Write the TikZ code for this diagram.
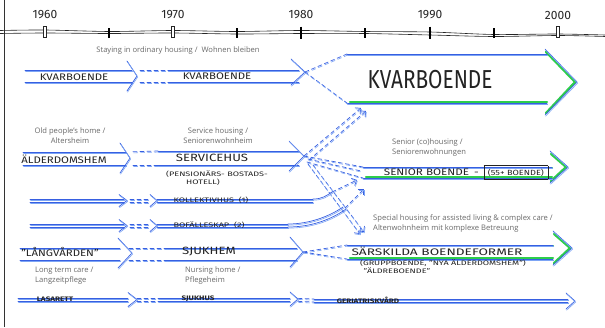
\documentclass[tikz,border=0pt]{standalone}
\usepackage{fontspec}
\setmainfont{Open Sans}
\newfontfamily\hand{Fira Sans}
\usetikzlibrary{arrows.meta}
\definecolor{bl1}{RGB}{55,95,225}
\definecolor{bl2}{RGB}{125,165,245}
\definecolor{gr}{RGB}{45,205,75}
\definecolor{ink}{RGB}{35,35,35}
\definecolor{lab}{RGB}{105,105,105}
% open band arrow: name, x0, x1, ytop, ybot, headx, tipx, tipy, half-height
\newcommand\oarrow[9]{%
  \coordinate (#1-a) at (#2,#4);
  \coordinate (#1-b) at (#2,#5);
  \coordinate (#1-c) at (#3,#4);
  \coordinate (#1-d) at (#3,#5);
  \coordinate (#1-t) at (#7,#8);
  \draw[ln] (#1-a) -- (#1-c);
  \draw[ln] (#1-b) -- (#1-d);
  \draw[ln] (#6,#8-#9) -- (#1-t) -- (#6,#8+#9);
}
\newcommand\garrow[9]{%
  \coordinate (#1-a) at (#2,#4);
  \coordinate (#1-b) at (#2,#5);
  \coordinate (#1-c) at (#3,#4);
  \coordinate (#1-d) at (#3,#5);
  \coordinate (#1-t) at (#7,#8);
  \draw[grn] (#2+3,#4+1.2) -- (#3,#4+1.2);
  \draw[grn] (#2+3,#5-1.2) -- (#3,#5-1.2);
  \draw[grn] (#6+1,#8-#9+3) -- (#7-2,#8) -- (#6+1,#8+#9-2);
  \draw[ln] (#1-a) -- (#1-c);
  \draw[ln] (#1-b) -- (#1-d);
  \draw[ln] (#6,#8-#9) -- (#1-t) -- (#6,#8+#9);
}
\begin{document}
\begin{tikzpicture}[x=1pt,y=-1pt,
  ln/.style={draw=bl1, line width=0.7pt, line cap=round,
    postaction={draw=bl2, line width=0.6pt, transform canvas={xshift=0.6pt,yshift=-1.1pt}}},
  dln/.style={ln, dash pattern=on 4pt off 3pt},
  barb/.style={-{Straight Barb[length=4pt,width=8pt]}},
  grn/.style={draw=gr, line width=2.2pt, line cap=round},
  hw/.style={font=\hand\fontsize{9.5}{10}\selectfont, text=ink, inner sep=0pt, xscale=1.2},
  hwl/.style={font=\hand\fontsize{10.5}{11}\selectfont, text=ink, inner sep=0pt, xscale=1.25},
  hws/.style={font=\hand\fontsize{6.5}{7.5}\selectfont, text=ink, inner sep=0pt, xscale=1.4},
  hwb/.style={font=\hand\bfseries\fontsize{6.5}{7.5}\selectfont, text=ink, inner sep=0pt, xscale=1.25},
  lbl/.style={font=\fontsize{7.6}{10}\selectfont, text=lab, inner sep=0pt, align=left},
  tl/.style={draw=black!85, line width=0.6pt},
  yr/.style={font=\hand\fontsize{12}{13}\selectfont, text=black!85, inner sep=0pt},
]
\useasboundingbox (0,0) rectangle (605,327);
\fill[white] (0,0) rectangle (605,327);
% frame
\draw[black!80, line width=0.8pt] (4,0) -- (4,327);
% timeline
\draw[tl] plot[smooth] coordinates {(0,30.5) (45,30) (110,31.5) (173,30.5) (237,31.5) (301,30.5) (365,31.5) (430,32) (494,34.5) (558,34) (605,35)};
\draw[tl] plot[smooth] coordinates {(0,33.5) (45,33) (110,33.5) (173,33) (237,34) (301,33.5) (365,33.5) (430,35) (494,36.5) (558,35.5) (605,36.5)};
\foreach \x/\y in {45/1960,173/1970,558/2000}{
  \draw[tl, fill=white] (\x-1.5,26.5) rectangle (\x+1.5,37.5);
}
\foreach \x/\y in {301/1980,430/1990}{
  \draw[black, line width=2.2pt] (\x,26.5) -- (\x,38.5);
}
\foreach \x/\y in {45/1960,173/1970,301/1980,430/1990,558/2000}{
  \node[yr] (y\y) at (\x,15) {\y};
}
\foreach \x in {109,237,365,494}{
  \draw[black, line width=2pt] (\x,28) -- (\x,37.5);
}
% ---- row: ordinary housing
\node[lbl] (lA) at (178,51) {Staying in ordinary housing /\ \ Wohnen bleiben};
\oarrow{A1}{25}{132}{70}{82}{127}{137}{76}{15}
\oarrow{A2}{168}{299}{70}{82}{291}{305}{72}{13}
\garrow{B}{347}{547}{54}{103}{545}{577}{82}{33}
\node[hw] (tA1) at (74,77) {KVARBOENDE};
\node[hw] (tA2) at (217,76) {KVARBOENDE};
\node[font=\hand\fontsize{26}{28}\selectfont, xscale=0.8, text=ink, inner sep=0pt] (tB) at (430,80) {KVARBOENDE};
\draw[dln, shorten <=8pt] (A1-c) -- (A2-a);
\draw[dln, shorten <=8pt] (A1-d) -- (A2-b);
\draw[dln] (A2-t) -- (B-a);
\draw[dln] (A2-t) -- (B-b);
% ---- row: old people's home / service housing
\node[lbl, align=center] (lC1) at (70,136) {Old people's home /\\Altersheim};
\node[lbl, align=center] (lC2) at (218,136) {Service housing /\\Seniorenwohnheim};
\oarrow{C1}{23}{126}{152}{165}{120}{130}{158}{15}
\oarrow{C2}{158}{299}{151}{165}{289}{304}{156}{15}
\node[hw] (tC1) at (64,159) {ÄLDERDOMSHEM};
\node[hwl] (tC2) at (212,158) {SERVICEHUS};
\node[hws, align=left] (tC2b) at (217,178) {(PENSIONÄRS- BOSTADS-\\\hspace{2.2em}HOTELL)};
\draw[dln, shorten <=7pt] (C1-c) -- (C2-a);
\draw[dln, shorten <=7pt] (C1-d) -- (C2-b);
% ---- senior housing
\node[lbl, anchor=west] (lD) at (392,148) {Senior (co)housing /\\Seniorenwohnungen};
\garrow{D}{363}{552}{167}{178}{550}{568}{167}{16}
\node[hw, xscale=1.02] (tD) at (466,172.5) {SENIOR BOENDE \,-\, \fbox{\rule{0pt}{1ex}\fontsize{7.5}{8}\selectfont (55+ BOENDE)}};
% ---- special housing
\node[lbl, anchor=west] (lH) at (373,223.5) {Special housing for assisted living \& complex care /\\Altenwohnheim mit komplexe Betreuung};
\garrow{H}{347}{553}{245}{259}{553}{572}{248}{17}
\node[hw, xscale=1.2] (tH) at (437,251.5) {SÄRSKILDA BOENDEFORMER};
\node[hws] (tH2) at (443,263) {(GRUPPBOENDE, ”NYA ÄLDERDOMSHEM”)};
\node[hws] (tH3) at (397,271) {”ÄLDREBOENDE”};
% connectors from service housing
\coordinate (Bin) at (361,108);
\coordinate (Bin2) at (366,111);
\coordinate (Hin) at (360,234);
\draw[dln, barb] (C2-t) -- (Bin);
\draw[dln, barb] ([shift={(5,4)}]C2-t) -- (Bin2);
\draw[dln] (C2-t) -- (D-a);
\draw[dln] ([shift={(4,3)}]C2-t) -- ([shift={(-2,4)}]D-a);
\draw[dln] ([shift={(3,6)}]C2-t) -- (D-b);
\draw[dln, barb] ([shift={(4,8)}]C2-t) -- (Hin);
\draw[dln, barb] ([shift={(9,9)}]C2-t) -- ([shift={(4,-2)}]Hin);
% ---- kollektivhus / bofaelleskap
\oarrow{E1}{30}{124}{199}{202}{119}{127}{200.5}{6}
\oarrow{E2}{157}{313}{199}{202}{150}{157}{200.5}{6}
\oarrow{F1}{30}{124}{224}{227}{119}{127}{225.5}{6}
\oarrow{F2}{157}{288}{224}{227}{150}{157}{225.5}{6}
\draw[dln, shorten <=6pt, shorten >=7pt] (E1-c) -- (E2-a);
\draw[dln, shorten <=6pt, shorten >=7pt] (E1-d) -- (E2-b);
\draw[dln, shorten <=6pt, shorten >=7pt] (F1-c) -- (F2-a);
\draw[dln, shorten <=6pt, shorten >=7pt] (F1-d) -- (F2-b);
\node[hws] (tE) at (211,200) {KOLLEKTIVHUS \ (1)};
\node[hws] (tF) at (209,225) {BOFÄLLESKAP \ (2)};
\coordinate (Din) at (357,180);
\coordinate (Din2) at (364,189);
\draw[ln] (E2-c) .. controls (322,199) and (326,196) .. (332,192);
\draw[dln, barb] (332,192) -- (Din);
\draw[ln] (F2-c) .. controls (310,224) and (330,216) .. (343,207);
\draw[ln] (F2-d) .. controls (312,227) and (332,219) .. (346,209);
\draw[dln, barb] (345,208) -- (Din2);
% ---- long-term care / nursing home
\node[lbl, anchor=west] (lG1) at (35,276) {Long term care /\\Langzeitpflege};
\node[lbl, anchor=west] (lG2) at (185,276) {Nursing home /\\Pflegeheim};
\oarrow{G1}{20}{120}{248}{260}{118}{132}{253}{15}
\oarrow{G2}{167}{297}{248}{260}{290}{303}{252}{15}
\node[hw] (tG1) at (60,252) {”LÅNGVÅRDEN”};
\node[hwl] (tG2) at (209,252) {SJUKHEM};
\draw[dln, shorten <=9pt] (G1-c) -- (G2-a);
\draw[dln, shorten <=9pt] (G1-d) -- (G2-b);
\draw[dln] (G2-t) -- (H-a);
\draw[dln] (G2-t) -- (H-b);
% ---- hospital row
\oarrow{I1}{18}{128}{298}{301}{128}{137}{299.5}{7}
\oarrow{I2}{160}{290}{298}{301}{290}{298}{299}{7}
\oarrow{I3}{314}{568}{299}{302}{566}{575}{301}{8}
\draw[dln, shorten <=9pt] (I1-c) -- (I2-a);
\draw[dln, shorten <=9pt] (I1-d) -- (I2-b);
\draw[dln, shorten <=8pt] (I2-c) -- (I3-a);
\draw[dln, shorten <=8pt] (I2-d) -- (I3-b);
\node[hwb] (tI1) at (55,299.5) {LASARETT};
\node[hwb] (tI2) at (198,299) {SJUKHUS};
\node[hwb] (tI3) at (368,300.5) {GERIATRISKVÅRD};
\end{tikzpicture}
\end{document}
